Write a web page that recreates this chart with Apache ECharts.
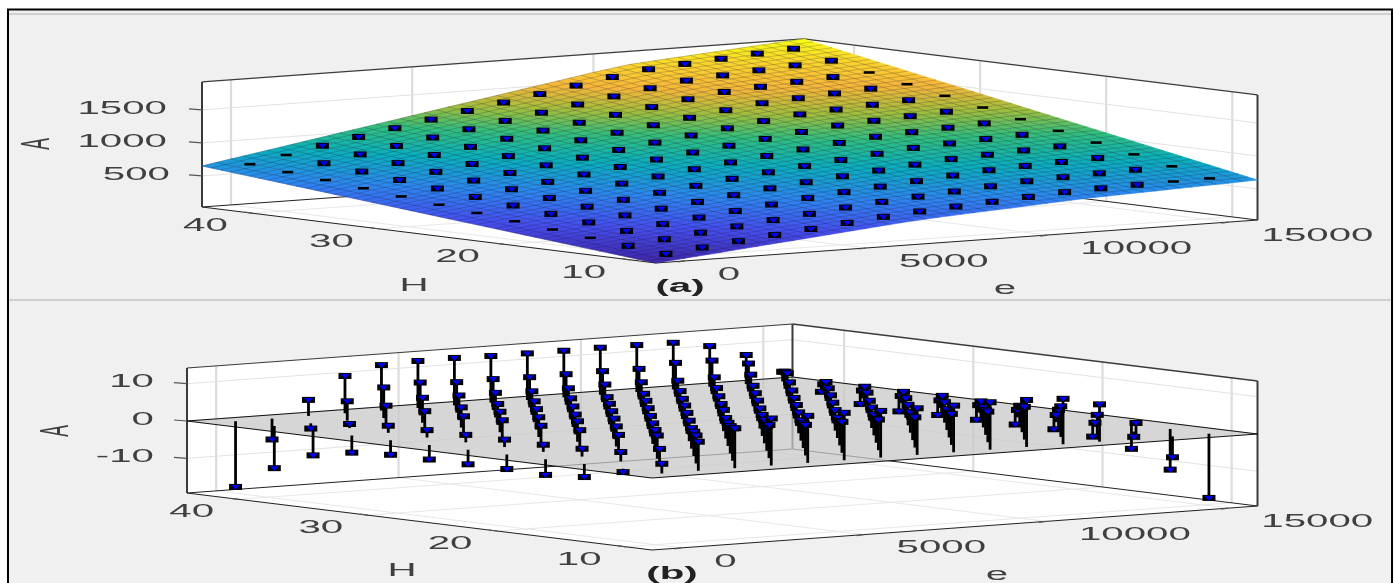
<!DOCTYPE html>
<html><head><meta charset="utf-8">
<style>html,body{margin:0;padding:0;background:#fff}#c{width:1394px;height:583px;filter:blur(0.45px)}</style>
<script src="https://cdn.jsdelivr.net/npm/echarts@6/dist/echarts.min.js"></script>
</head><body><div id="c"></div>
<script>
// Values.
const eTicks=[0,5000,10000,15000];
const hTicks=[10,20,30,40];
const aTicksSurface=[500,1000,1500];
const aTicksResidual=[-10,0,10];
// Surface mesh lines (axis limits included)
const surfaceE=[-800,0,1000,2000,3000,4000,5000,6000,7000,8000,9000,10000,11000,12000,13000,14000,15000,15800];
const surfaceH=[44,42.5,39.5,36.5,33.5,30.5,27.5,24.5,21.5,18.5,15.5,12.5,9.5,8];
const surfaceA=[
[651,725,816,909,1000,1092,1184,1277,1368,1460,1551,1644,1725,1768,1809,1851,1892,1924],
[625,698,787,878,967,1058,1148,1239,1328,1417,1506,1596,1675,1717,1757,1799,1839,1870],
[573,643,729,817,903,990,1077,1164,1249,1334,1417,1502,1577,1617,1656,1695,1733,1763],
[522,589,671,756,838,922,1005,1090,1170,1250,1328,1408,1479,1517,1554,1591,1627,1656],
[470,534,613,694,773,853,933,1014,1090,1164,1238,1313,1380,1416,1450,1486,1521,1548],
[418,480,555,633,709,785,862,939,1011,1080,1149,1219,1281,1316,1349,1382,1415,1441],
[367,425,498,572,644,717,791,864,932,996,1060,1125,1183,1216,1247,1279,1309,1334],
[314,371,439,510,579,649,718,789,852,911,970,1030,1084,1114,1143,1173,1203,1226],
[263,316,382,449,514,581,647,714,773,828,881,936,986,1014,1042,1070,1097,1119],
[211,262,324,388,450,513,576,639,694,744,792,842,887,914,940,966,991,1012],
[159,207,266,326,385,444,504,563,614,658,702,747,788,813,836,861,885,904],
[108,153,208,265,320,376,432,489,535,575,613,653,690,713,735,757,779,797],
[56,98,150,204,256,308,361,414,456,491,524,559,592,613,633,654,673,690],
[30,71,121,173,223,274,325,376,416,448,479,511,542,562,581,601,620,636]];
// Sample points: residual (panel b) per H row and e column
const pointE=[0,1000,2000,3000,4000,5000,6000,7000,8000,9000,10000,11000,12000,13000,14000,15000];
const pointH=[42.5,39.5,36.5,33.5,30.5,27.5,24.5,21.5,18.5,15.5,12.5,9.5];
const residual=[
[-17.6,-5.6,4.3,10.0,12.2,12.6,12.7,12.5,12.5,12.5,12.6,12.6,12.5,10.9,7.8,2.6],
[-11.3,-1.4,5.2,8.2,8.8,8.2,8.3,8.1,8.2,8.3,8.2,9.1,9.0,7.5,4.6,-1.5],
[-6.6,1.1,5.3,6.7,6.6,6.6,6.3,6.4,6.7,6.6,6.3,6.5,6.5,6.2,2.5,-3.5],
[-4.6,1.9,5.1,5.4,5.6,5.6,5.7,5.3,5.5,5.5,5.6,5.5,5.7,5.1,2.1,-4.2],
[-3.9,2.0,5.0,5.5,5.5,5.5,5.5,5.6,5.4,5.4,5.5,5.5,5.4,5.1,1.9,-3.9],
[-3.9,2.0,5.2,5.3,5.3,5.5,5.6,5.6,5.3,5.5,5.5,5.5,5.5,5.0,2.0,-3.9],
[-3.9,2.0,5.0,5.5,5.5,5.5,5.6,5.7,5.4,5.6,5.5,5.3,5.3,5.2,2.0,-3.9],
[-3.9,1.9,5.1,5.4,5.5,5.5,5.5,5.6,5.6,5.5,5.5,5.5,5.5,5.0,2.0,-3.9],
[-4.2,2.1,5.1,5.7,5.5,6.2,6.3,5.5,5.5,5.7,5.6,5.6,5.4,5.1,1.9,-4.6],
[-3.5,2.5,6.2,6.5,7.3,6.6,6.6,6.5,6.4,6.3,6.6,6.6,6.7,5.3,1.1,-6.6],
[-0.9,4.6,7.5,8.7,8.9,8.2,8.3,8.2,8.1,8.3,8.2,8.8,8.2,5.2,-1.4,-10.9],
[2.6,7.8,10.7,12.6,12.6,12.7,12.5,12.5,12.5,12.7,12.6,12.2,10.0,4.3,-5.6,-17.2]];
const eLimits=[-800,15800], hLimits=[8,44];
const aLimitsSurface=[30,1924], aLimitsResidual=[-19.3,14.2];

const PARULA=[[0,[62,38,168]],[.14,[70,78,240]],[.28,[45,135,240]],[.42,[10,175,190]],[.55,[50,190,125]],[.66,[160,190,60]],[.78,[248,182,58]],[.9,[250,215,45]],[1,[249,251,21]]];
function parula(f){f=Math.max(0,Math.min(1,f));
  for(let i=1;i<PARULA.length;i++){if(f<=PARULA[i][0]){const a=PARULA[i-1],b=PARULA[i],k=(f-a[0])/(b[0]-a[0]);
    return 'rgb('+[0,1,2].map(n=>Math.round(a[1][n]+(b[1][n]-a[1][n])*k)).join(',')+')';}}
  return 'rgb(249,251,21)';}

// Oblique view of the box inside each hidden 0..1 axis pair
const viewA={g:0,fu:.430,rv:.191,lv:.249,zv:.556,zLim:aLimitsSurface,zTicks:aTicksSurface,labelZx:[170,167,167]};
const viewB={g:1,fu:.4344,rv:.1956,lv:.2533,zv:.5556,zLim:aLimitsResidual,zTicks:aTicksResidual,labelZx:[154,154,154]};
function uv(v,e,H,a){
  const ee=(e-eLimits[0])/(eLimits[1]-eLimits[0]), t=(H-hLimits[0])/(hLimits[1]-hLimits[0]), z=(a-v.zLim[0])/(v.zLim[1]-v.zLim[0]);
  return [v.fu+(1-v.fu)*ee-v.fu*t, v.rv*ee+v.lv*t+v.zv*z];
}
const P=(api,v,e,H,a)=>api.coord(uv(v,e,H,a));
const line=(a,b,c,w)=>({type:'line',shape:{x1:a[0],y1:a[1],x2:b[0],y2:b[1]},style:{stroke:c,lineWidth:w,fill:null}});
const poly=(pts,fill,stroke,w)=>({type:'polygon',shape:{points:pts},style:{fill:fill,stroke:stroke||null,lineWidth:w||0}});
const FONT='"Liberation Sans",Arial,sans-serif', SX=2.3, TXT='#404040', FS=17.5;
const text=(s,x,y,align,opt)=>Object.assign({type:'text',x:x,y:y,scaleX:SX,style:{text:s,fontFamily:FONT,fontSize:FS,fill:TXT,align:align,verticalAlign:'middle',textAlign:align,textVerticalAlign:'middle'}},opt||{});

function boxItem(v,labels){return function(p,api){
  const [e0,e1]=eLimits,[h0,h1]=hLimits,[z0,z1]=v.zLim;
  const Lb=P(api,v,e0,h1,z0),Lt=P(api,v,e0,h1,z1),Bb=P(api,v,e1,h1,z0),Bt=P(api,v,e1,h1,z1),Rb=P(api,v,e1,h0,z0),Rt=P(api,v,e1,h0,z1),Fb=P(api,v,e0,h0,z0);
  const ch=[poly([Lb,Bb,Bt,Lt],'#fff'),poly([Bb,Rb,Rt,Bt],'#fff'),poly([Lb,Fb,Rb,Bb],'#fff')];
  const G='#dcdcdc',GF='#e8e8e8',D='#3a3a3a';
  eTicks.forEach(e=>{ch.push(line(P(api,v,e,h1,z0),P(api,v,e,h1,z1),G,2.2));ch.push(line(P(api,v,e,h1,z0),P(api,v,e,h0,z0),GF,1));});
  hTicks.forEach(H=>{ch.push(line(P(api,v,e1,H,z0),P(api,v,e1,H,z1),G,2.2));ch.push(line(P(api,v,e1,H,z0),P(api,v,e0,H,z0),GF,1));});
  v.zTicks.forEach(a=>{ch.push(line(P(api,v,e0,h1,a),P(api,v,e1,h1,a),'#e2e2e2',1));ch.push(line(P(api,v,e1,h1,a),P(api,v,e1,h0,a),'#e2e2e2',1));});
  ch.push(line(Lb,Bb,'#222',1),line(Bb,Rb,'#222',1),line(Lb,Fb,'#222',1.2),line(Fb,Rb,'#222',1.2));
  ch.push(line(Lt,Bt,D,1.2),line(Bt,Rt,D,1.4),line(Lb,Lt,D,2),line(Rb,Rt,D,2),line(Bb,Bt,D,v.g?2:1));
  eTicks.forEach(e=>{const a=P(api,v,e,h0,z0);ch.push(line(a,[a[0]-7,a[1]+1],'#555',1.2));
    ch.push(text(String(e),a[0]+labels.eDx,a[1]+labels.eDy,'left'));});
  hTicks.forEach(H=>{const a=P(api,v,e0,H,z0);ch.push(line(a,[a[0]-8,a[1]-1],'#555',1.2));
    ch.push(text(String(H),a[0]+labels.hDx,a[1]+labels.hDy,'center'));});
  v.zTicks.forEach((a,i)=>{const q=P(api,v,e0,h1,a);ch.push(line(q,[q[0]-13,q[1]-1],'#555',1.2));
    ch.push(text(String(a),v.labelZx[i],q[1]-1,'right'));});
  ch.push(text('H',labels.H[0],labels.H[1],'center'),text('e',labels.e[0],labels.e[1],'center'));
  ch.push(text('A',labels.A[0],labels.A[1],'center',{scaleX:1,scaleY:SX,rotation:Math.PI/2}));
  ch.push(text(labels.tag[0],labels.tag[1],labels.tag[2],'center',{style:{text:labels.tag[0],fontFamily:FONT,fontSize:FS,fontWeight:'bold',fill:'#222',align:'center',verticalAlign:'middle',textAlign:'center',textVerticalAlign:'middle'}}));
  return {type:'group',children:ch};
};}

const surfaceCells=[];
for(let r=0;r<surfaceH.length-1;r++)for(let c=0;c<surfaceE.length-1;c++)surfaceCells.push([surfaceE[c],surfaceH[r],surfaceA[r][c],r,c]);
function surfaceItem(p,api){
  const r=api.value(3),c=api.value(4),v=viewA;
  const A=[surfaceA[r][c],surfaceA[r][c+1],surfaceA[r+1][c+1],surfaceA[r+1][c]];
  const pts=[P(api,v,surfaceE[c],surfaceH[r],A[0]),P(api,v,surfaceE[c+1],surfaceH[r],A[1]),P(api,v,surfaceE[c+1],surfaceH[r+1],A[2]),P(api,v,surfaceE[c],surfaceH[r+1],A[3])];
  // colour: linear gradient running along the cell's own height slope
  const dEx=(pts[1][0]+pts[2][0]-pts[0][0]-pts[3][0])/2,dEy=(pts[1][1]+pts[2][1]-pts[0][1]-pts[3][1])/2;
  const dHx=(pts[3][0]+pts[2][0]-pts[0][0]-pts[1][0])/2,dHy=(pts[3][1]+pts[2][1]-pts[0][1]-pts[1][1])/2;
  const dAE=(A[1]+A[2]-A[0]-A[3])/2,dAH=(A[3]+A[2]-A[0]-A[1])/2;
  const det=dEx*dHy-dEy*dHx,a=(dAE*dHy-dAH*dEy)/det,b=(dEx*dAH-dHx*dAE)/det,n=a*a+b*b;
  const cx=(pts[0][0]+pts[1][0]+pts[2][0]+pts[3][0])/4,cy=(pts[0][1]+pts[1][1]+pts[2][1]+pts[3][1])/4,Ac=(A[0]+A[1]+A[2]+A[3])/4;
  const d=Math.max(...A)-Math.min(...A)+20;
  const [z0,z1]=aLimitsSurface,f=x=>(x-z0)/(z1-z0),stops=[];
  for(let k=0;k<=6;k++)stops.push({offset:k/6,color:parula(f(Ac-d+2*d*k/6))});
  const fill=new echarts.graphic.LinearGradient(cx-a/n*d,cy-b/n*d,cx+a/n*d,cy+b/n*d,stops,true);
  const ch=[poly(pts,fill,fill,.6)];
  // fine mesh texture across the cell
  const lerp=(q,s,k)=>[q[0]+(s[0]-q[0])*k,q[1]+(s[1]-q[1])*k],M='rgba(15,15,40,.30)';
  const nE=(c===0||c===surfaceE.length-2)?2:3,nH=(r===0||r===surfaceH.length-2)?2:4;
  for(let k=0;k<nE;k++)ch.push(line(lerp(pts[0],pts[1],k/nE),lerp(pts[3],pts[2],k/nE),M,.7));
  for(let k=0;k<nH;k++)ch.push(line(lerp(pts[0],pts[3],k/nH),lerp(pts[1],pts[2],k/nH),M,.7));
  return {type:'group',children:ch};
}

const pointRows=[];
pointH.forEach((H,i)=>pointE.forEach((e,j)=>pointRows.push([e,H,residual[i][j],i,j])));
function marker(q,thin){
  if(thin)return [{type:'rect',shape:{x:q[0]-5.5,y:q[1]-1.3,width:11,height:2.6},style:{fill:'#000'}}];
  return [{type:'rect',shape:{x:q[0]-6.5,y:q[1]-3,width:13,height:6},style:{fill:'#000'}},
    poly([[q[0]-4.5,q[1]-2],[q[0]+4.5,q[1]-2],[q[0],q[1]+2.8]],'#0000f0')];
}
function pointsAItem(p,api){
  const i=api.value(3),j=api.value(4),r=api.value(2);
  const A=surfaceA[i+1][j+1]+r;
  return {type:'group',children:marker(P(api,viewA,api.value(0),api.value(1),A),r<-3)};
}
function stemItem(p,api){
  const e=api.value(0),H=api.value(1),r=api.value(2);
  return line(P(api,viewB,e,H,0),P(api,viewB,e,H,r),'#000',2.8);
}
function markerBItem(p,api){
  return {type:'group',children:marker(P(api,viewB,api.value(0),api.value(1),api.value(2)),false)};
}
function planeItem(p,api){
  const [e0,e1]=eLimits,[h0,h1]=hLimits,v=viewB;
  const L=P(api,v,e0,h1,0),F=P(api,v,e0,h0,0),R=P(api,v,e1,h0,0),B=P(api,v,e1,h1,0);
  return {type:'group',children:[poly([L,F,R,B],'rgba(200,200,200,.75)'),line(L,F,'#111',1.1),line(F,R,'#111',1.1),line(R,B,'#111',1.1),line(B,L,'#111',1.1)]};
}
const labelsA={eDx:33,eDy:14,hDx:-47,hDy:13,H:[414,286],e:[1005,289],A:[38,144],tag:['(a)',680,287]};
const labelsB={eDx:33,eDy:14,hDx:-47,hDy:13,H:[402,571],e:[997,575],A:[57,431],tag:['(b)',672,574]};
const base=(g,fn,data)=>({type:'custom',coordinateSystem:'cartesian2d',xAxisIndex:g,yAxisIndex:g,clip:false,silent:true,animation:false,renderItem:fn,data:data,progressive:0});
const chart=echarts.init(document.getElementById('c'),null,{renderer:'canvas'});
chart.setOption({animation:false,backgroundColor:'#fff',tooltip:{show:false},
  graphic:[
   {type:'rect',z:-10,shape:{x:8,y:9.5,width:1384,height:600},style:{fill:'#f0f0f0',stroke:'#000',lineWidth:2}},
   {type:'line',z:-9,shape:{x1:9,y1:14,x2:1391,y2:14},style:{stroke:'#cfcfcf',lineWidth:2}},
   {type:'line',z:-9,shape:{x1:9,y1:300,x2:1391,y2:300},style:{stroke:'#cfcfcf',lineWidth:2}}
  ],
  grid:[{left:202,width:1055.5,top:38,height:225},{left:187,width:1070.5,top:325,height:225}],
  xAxis:[{type:'value',gridIndex:0,min:0,max:1,show:false},{type:'value',gridIndex:1,min:0,max:1,show:false}],
  yAxis:[{type:'value',gridIndex:0,min:0,max:1,show:false},{type:'value',gridIndex:1,min:0,max:1,show:false}],
  series:[
   base(0,boxItem(viewA,labelsA),[[0,0]]),
   base(0,surfaceItem,surfaceCells),
   base(0,pointsAItem,pointRows),
   base(1,boxItem(viewB,labelsB),[[0,0]]),
   base(1,planeItem,[[0,0]]),
   base(1,stemItem,pointRows),
   base(1,markerBItem,pointRows)
  ]});
</script></body></html>
